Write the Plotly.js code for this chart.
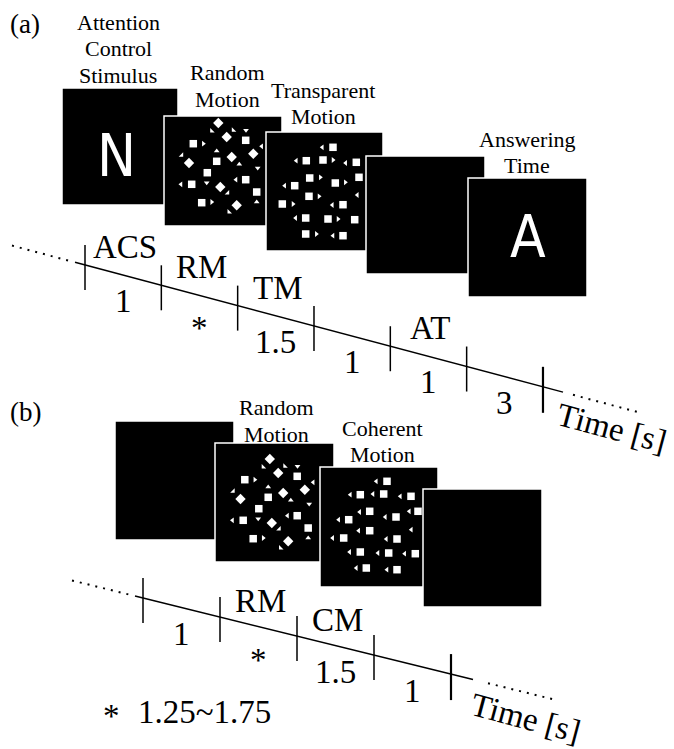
<!DOCTYPE html>
<html><head><meta charset="utf-8">
<script src="https://cdn.plot.ly/plotly-3.0.1.min.js"></script>
<style>html,body{margin:0;padding:0;background:#fff;}#chart{width:674px;height:749px;}</style>
</head><body><div id="chart"></div>
<script>
// ---------------- data (text and values) ----------------
const panelTags = ['(a)', '(b)'];
const stimNamesA = [['Attention', 'Control', 'Stimulus'], ['Random', 'Motion'], ['Transparent', 'Motion'], [], ['Answering', 'Time']];
const stimLettersA = ['N', '', '', '', 'A'];
const phasesA = ['ACS', 'RM', 'TM', '', 'AT', ''];
const durationsA = ['1', '*', '1.5', '1', '1', '3'];
const stimNamesB = [[], ['Random', 'Motion'], ['Coherent', 'Motion'], []];
const phasesB = ['', 'RM', 'CM', ''];
const durationsB = ['1', '*', '1.5', '1'];
const footnoteMark = '*';
const footnoteText = '1.25~1.75';
const timeAxisTitle = 'Time [s]';

// dot patterns inside the stimulus windows (px from pattern origin)
const rmDiamondX = [54.3, 62.7, 67.7, 89.3, 25, 56.3, 72.7];
const rmDiamondY = [15, 29, 49, 45.7, 55, 79, 97.3];
const rmSquareX = [29.3, 81.7, 52.7, 43.3, 27.7, 81.7, 92.7, 37.7];
const rmSquareY = [35.7, 32.3, 53.3, 64.7, 76.3, 71.7, 84, 94.7];
const rmTriX = [47.7, 69.3, 82, 39.3, 52.7, 17.7, 75.3, 93.7, 97.7, 17, 42.7, 72, 63.7, 47.7, 92.7, 65];
const rmTriY = [23, 22.3, 22.3, 35.7, 43, 47.3, 56.3, 60, 38.3, 76.3, 74.7, 71.7, 85, 94, 94, 104];
const rmTriDir = ['triangle-sw', 'triangle-sw', 'triangle-down', 'triangle-right', 'triangle-up', 'triangle-se', 'triangle-up', 'triangle-down', 'triangle-left', 'triangle-left', 'triangle-down', 'triangle-left', 'triangle-se', 'triangle-right', 'triangle-up', 'triangle-sw'];

const tmSquareX = [67, 40.3, 57, 90.3, 43.7, 69.3, 93, 28.7, 43, 16.3, 77, 39.7, 62, 88.7, 39.7, 77];
const tmSquareY = [15.3, 28.7, 28, 30.3, 46, 51, 45.3, 53.7, 64.3, 72, 72.7, 86, 87, 87.7, 102, 103.7];
const tmArrowX = [56.3, 30.3, 67, 79.7, 54.3, 79.3, 18.7, 53, 91.3, 27, 66.3, 29.7, 72, 50.3, 67];
const tmArrowY = [15.3, 28.7, 28, 31, 45.3, 50.3, 53.7, 64.3, 63, 72, 73, 86, 87, 102, 103.7];
const tmArrowDir = ['L', 'L', 'R', 'L', 'R', 'R', 'L', 'R', 'L', 'R', 'L', 'L', 'R', 'R', 'L'];

const cmSquareX = [67, 40.3, 63.7, 91, 49.7, 76, 98, 28.7, 49.7, 23.7, 77, 40.3, 68.7, 95.3, 46.3, 77];
const cmSquareY = [14.3, 27.7, 27, 29.3, 44.3, 50, 44.3, 52.7, 63.7, 71, 72, 85, 86, 86.7, 101, 102.7];
const cmArrowX = [56.3, 30.3, 53, 80.3, 39.7, 65.3, 89.3, 18.7, 38.7, 91.3, 12.7, 66.3, 29.7, 58, 84.7, 36.3, 67];
const cmArrowY = [14.3, 27.7, 27, 29.3, 45, 50, 44.3, 52.7, 63.7, 62.7, 71, 72, 85, 86, 86.7, 101, 102.7];

// ---------------- layout geometry (pixels) ----------------
const W = 674, H = 749;
const SERIF = 'Liberation Serif, Times New Roman, Times, serif';
const SANSN = 'Liberation Sans Narrow, DejaVu Sans Condensed, Liberation Sans, sans-serif';

const boxesA = [[62, 88, 178, 205], [164, 116, 282, 226], [266, 132, 383, 251], [366, 156, 485, 274], [468, 178, 587, 297]];
const boxesB = [[115, 421, 234, 540], [215, 443, 334, 562], [320, 467, 438, 587], [423, 489, 542, 607]];
const labelPosA = [[118, 22], [227, 72.5], [323, 90], null, [527, 139]];
const labelPosB = [null, [276, 407.5], [382, 428], null];
const letterPosA = [[116, 156], null, null, null, [528, 237]];
const LINE_GAP = 26.5;

const tlA = {x0: 85, dx: 76.33, y0: 265, slope: 0.266, solid: [75, 563], dotL: [12, 72], dotR: [573, 638], title: [612, 428], above: 28};
const tlB = {x0: 143, dx: 77, y0: 598, slope: 0.247, solid: [135, 473], dotL: [72, 132], dotR: [488, 556], title: [526, 718], above: 26};

const shapes = [];
const annotations = [];
const traces = [];

function ann(x, y, text, size, extra) {
  return Object.assign({x: x, y: y, xref: 'x', yref: 'y', text: text, showarrow: false,
    xanchor: 'center', yanchor: 'middle', font: {family: SERIF, size: size, color: '#000'}}, extra || {});
}

function addBoxes(boxes) {
  boxes.forEach(b => shapes.push({type: 'rect', xref: 'x', yref: 'y', x0: b[0], y0: b[1], x1: b[2], y1: b[3],
    fillcolor: '#000', line: {color: '#fff', width: 1.5}, layer: 'below'}));
}
addBoxes(boxesA);
addBoxes(boxesB);

function addLabels(names, pos) {
  names.forEach((lines, i) => {
    if (!pos[i]) return;
    lines.forEach((t, k) => annotations.push(ann(pos[i][0], pos[i][1] + k * LINE_GAP, t, 22)));
  });
}
addLabels(stimNamesA, labelPosA);
addLabels(stimNamesB, labelPosB);

stimLettersA.forEach((t, i) => {
  if (t && letterPosA[i]) annotations.push(ann(letterPosA[i][0], letterPosA[i][1], t, 58,
    {font: {family: SANSN, size: 58, color: '#fff'}}));
});

annotations.push(ann(25, 24, panelTags[0], 27));
annotations.push(ann(25, 412, panelTags[1], 27));

// dots
function shift(arr, o) { return arr.map(v => v + o); }
function dotTrace(xs, ys, ox, oy, symbol, size) {
  return {type: 'scatter', mode: 'markers', x: shift(xs, ox), y: shift(ys, oy), hoverinfo: 'skip',
    marker: {symbol: symbol, size: size, color: '#fff', line: {width: 0}}};
}
function addRM(ox, oy) {
  traces.push(dotTrace(rmDiamondX, rmDiamondY, ox, oy, 'diamond', 8));
  traces.push(dotTrace(rmSquareX, rmSquareY, ox, oy, 'square', 7.5));
  traces.push(dotTrace(rmTriX, rmTriY, ox, oy, rmTriDir, 5));
}
addRM(164, 108);
addRM(215.5, 444);
traces.push(dotTrace(tmSquareX, tmSquareY, 266, 132, 'square', 7.5));
traces.push(dotTrace(tmArrowX, tmArrowY, 266, 132, tmArrowDir.map(d => d === 'L' ? 'triangle-left' : 'triangle-right'), 5));
traces.push(dotTrace(cmSquareX, cmSquareY, 320, 467, 'square', 7.5));
traces.push(dotTrace(cmArrowX, cmArrowY, 320, 467, 'triangle-left', 5));

// timelines
function addTimeline(tl, phases, durs) {
  const yAt = x => tl.y0 + (x - tl.x0) * tl.slope;
  traces.push({type: 'scatter', mode: 'lines', x: tl.solid, y: tl.solid.map(yAt), hoverinfo: 'skip',
    line: {color: '#000', width: 1.5}});
  [tl.dotL, tl.dotR].forEach(d => traces.push({type: 'scatter', mode: 'lines', x: d, y: d.map(yAt), hoverinfo: 'skip',
    line: {color: '#000', width: 2, dash: '2px,6px'}}));
  const n = durs.length + 1;
  const tx = [], ty = [];
  for (let i = 0; i < n - 1; i++) {
    const x = tl.x0 + i * tl.dx;
    const y = yAt(x);
    tx.push(x, x, null); ty.push(y - 20, y + 25, null);
  }
  traces.push({type: 'scatter', mode: 'lines', x: tx, y: ty, hoverinfo: 'skip',
    line: {color: '#000', width: 1.5}});
  const lx = tl.x0 + (n - 1) * tl.dx;
  traces.push({type: 'scatter', mode: 'lines', x: [lx, lx], y: [yAt(lx) - 20, yAt(lx) + 26], hoverinfo: 'skip',
    line: {color: '#000', width: 2.2}});
  durs.forEach((d, i) => {
    const mx = tl.x0 + (i + 0.5) * tl.dx;
    const my = yAt(mx);
    if (phases[i]) annotations.push(ann(mx + 2, my - tl.above, phases[i], 33));
    annotations.push(ann(mx, my + (d === '*' ? 33 : 26), d, 33));
  });
  annotations.push(ann(tl.title[0], tl.title[1], timeAxisTitle, 33, {textangle: 15}));
}
addTimeline(tlA, phasesA, durationsA);
addTimeline(tlB, phasesB, durationsB);

annotations.push(ann(111, 716, footnoteMark, 33));
annotations.push(ann(136, 712, footnoteText, 33, {xanchor: 'left'}));

const layout = {
  width: W, height: H, margin: {l: 0, r: 0, t: 0, b: 0},
  paper_bgcolor: '#fff', plot_bgcolor: '#fff', showlegend: false,
  xaxis: {range: [0, W], visible: false, fixedrange: true},
  yaxis: {range: [H, 0], visible: false, fixedrange: true},
  shapes: shapes, annotations: annotations
};
Plotly.newPlot('chart', traces, layout, {staticPlot: true, displayModeBar: false});
</script>
</body></html>
